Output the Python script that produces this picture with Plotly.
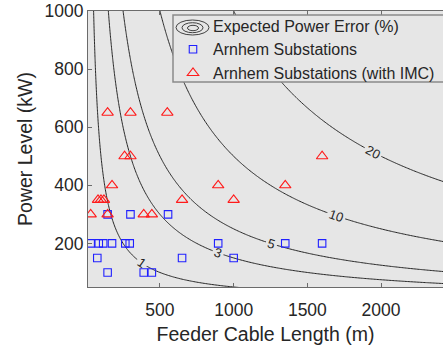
import numpy as np
import plotly.graph_objects as go

# ---- data ----
# Arnhem Substations (blue squares): feeder cable length (m), power level (kW)
sub_len = [30, 85, 115, 175, 265, 295, 895, 1350, 1600, 75, 650, 1000, 145, 390, 445, 145, 300, 555]
sub_pow = [200, 200, 200, 200, 200, 200, 200, 200, 200, 150, 150, 150, 100, 100, 100, 300, 300, 300]

# Arnhem Substations with IMC (red triangles)
imc_len = [145, 300, 550, 260, 300, 1600, 175, 895, 1350, 80, 100, 120, 650, 1000, 30, 145, 390, 445]
imc_pow = [650, 650, 650, 500, 500, 500, 400, 400, 400, 350, 350, 350, 350, 350, 300, 300, 300, 300]

# Contour levels of expected power error (%)
error_levels = [1, 3, 5, 10, 20]
K_LOSS = 50000.0

x_ticks = [500, 1000, 1500, 2000]
y_ticks = [200, 400, 600, 800, 1000]
X_RANGE = [12, 2420]
Y_RANGE = [50, 1000]

# ---- model grid for the contour ----
grid_len = np.linspace(0, 2600, 261)
grid_pow = np.linspace(40, 1010, 195)
Lg, Pg = np.meshgrid(grid_len, grid_pow)
err = Pg * Lg / K_LOSS

FONT = "Arial, Liberation Sans, Helvetica, sans-serif"
TXT = "#262626"
AX = "#6b6b6b"

fig = go.Figure()

for lev in error_levels:
    fig.add_trace(go.Contour(
        x=grid_len, y=grid_pow, z=err,
        autocontour=False,
        contours=dict(start=lev, end=lev, size=1, coloring="none",
                      showlabels=True,
                      labelfont=dict(size=13, color=TXT, family=FONT)),
        line=dict(color="#262626", width=1),
        showscale=False, showlegend=False, hoverinfo="skip",
    ))

# legend entry for contours (icon drawn with shapes)
fig.add_trace(go.Scatter(
    x=[None], y=[None], mode="markers", name="Expected Power Error (%)",
    marker=dict(size=10, color="rgba(0,0,0,0)"),
))

fig.add_trace(go.Scatter(
    x=sub_len, y=sub_pow, mode="markers", name="Arnhem Substations",
    marker=dict(symbol="square-open", size=7.5, color="#2020ff",
                line=dict(width=1.1, color="#2020ff")),
))
fig.add_trace(go.Scatter(
    x=imc_len, y=imc_pow, mode="markers", name="Arnhem Substations (with IMC)",
    marker=dict(symbol="triangle-up-open", size=10, color="#ff1a1a",
                line=dict(width=1.1, color="#ff1a1a")),
))

# plot area in pixels
PL, PR, PT, PB = 88, 443, 11, 287
def px(x):
    return (x - PL) / (PR - PL)
def py(y):
    return (PB - y) / (PB - PT)

# legend box (drawn as a shape so the contour icon can sit on top of it)
shapes = [dict(type="rect", xref="paper", yref="paper", layer="above",
               x0=px(173), x1=px(460), y0=py(82), y1=py(15),
               fillcolor="#e6e6e6", line=dict(color="#8a8a8a", width=1.5))]
for (x0, x1, y0, y1) in [(176, 209, 20, 35), (182, 203, 22.7, 32.7), (187.5, 198.5, 25.3, 30.7)]:
    shapes.append(dict(type="circle", xref="paper", yref="paper", layer="above",
                       x0=px(x0), x1=px(x1), y0=py(y1), y1=py(y0),
                       line=dict(color="#404040", width=1)))

fig.update_layout(
    width=443, height=349,
    margin=dict(l=PL, r=0, t=PT, b=349 - PB),
    paper_bgcolor="white",
    plot_bgcolor="#e6e6e6",
    font=dict(family=FONT, color=TXT, size=17.5),
    showlegend=True,
    legend=dict(x=px(173), y=py(8.5), xanchor="left", yanchor="top",
                bgcolor="rgba(0,0,0,0)", borderwidth=0,
                font=dict(size=16, color=TXT, family=FONT),
                itemsizing="trace", tracegroupgap=0),
    shapes=shapes,
    xaxis=dict(range=X_RANGE, tickvals=x_ticks, ticks="inside", ticklen=4,
               tickcolor=AX, showline=True, linecolor=AX, linewidth=1,
               mirror="ticks", showgrid=False, zeroline=False,
               ticklabelstandoff=7,
               tickfont=dict(size=17.5, color=TXT),
               title=dict(text="Feeder Cable Length (m)", font=dict(size=19.5, color=TXT), standoff=8)),
    yaxis=dict(range=Y_RANGE, tickvals=y_ticks, ticks="inside", ticklen=4,
               tickcolor=AX, showline=True, linecolor=AX, linewidth=1,
               mirror=False, showgrid=False, zeroline=False,
               tickfont=dict(size=17.5, color=TXT),
               title=dict(text="Power Level (kW)", font=dict(size=19.5, color=TXT), standoff=6)),
)

fig.write_html("out.html")
